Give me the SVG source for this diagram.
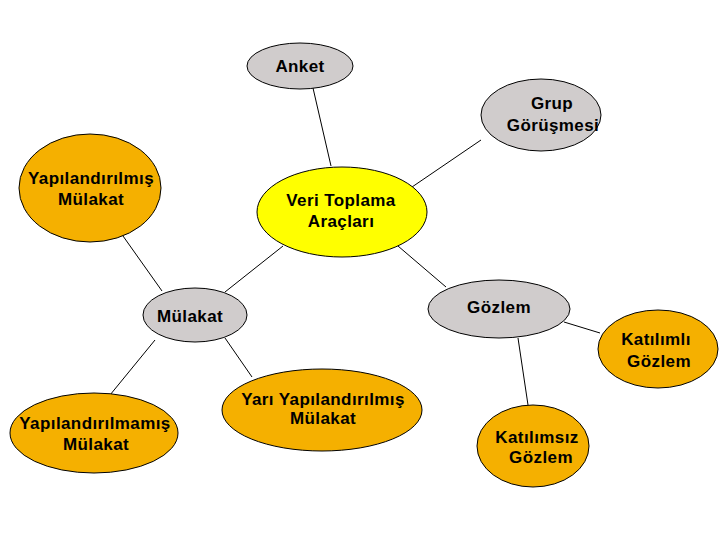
<svg xmlns="http://www.w3.org/2000/svg" width="720" height="540" viewBox="0 0 720 540">
<style>
.g{fill:#d0cccc;stroke:#000;stroke-width:1}
.o{fill:#f5b000;stroke:#000;stroke-width:1}
.y{fill:#ffff00;stroke:#000;stroke-width:1}
text{font-family:"Liberation Sans",Arial,sans-serif;font-size:17px;font-weight:bold;letter-spacing:0.4px;fill:#000;text-anchor:middle}
#connectors line{stroke:#000;stroke-width:1}
</style>
<rect width="720" height="540" fill="#fff"/>
<g id="connectors">
<line x1="313" y1="88" x2="331" y2="166"/>
<line x1="481" y1="140" x2="412" y2="187"/>
<line x1="123" y1="236" x2="162" y2="291"/>
<line x1="283" y1="246" x2="225" y2="292"/>
<line x1="398" y1="246" x2="446" y2="287"/>
<line x1="155" y1="340" x2="110" y2="395"/>
<line x1="225" y1="338" x2="252" y2="377"/>
<line x1="564" y1="322" x2="600" y2="333"/>
<line x1="518" y1="338" x2="528" y2="405"/>
</g>
<g id="anket"><ellipse class="g" cx="300" cy="66" rx="53" ry="23"/><text x="300" y="72">Anket</text></g>
<g id="grup"><ellipse class="g" cx="541" cy="115" rx="60" ry="36"/><text x="552" y="109">Grup</text><text x="553" y="131">Görüşmesi</text></g>
<g id="yapilandirilmis"><ellipse class="o" cx="90" cy="188" rx="71" ry="54"/><text x="91" y="184">Yapılandırılmış</text><text x="91" y="205">Mülakat</text></g>
<g id="veri"><ellipse class="y" cx="342" cy="212" rx="85" ry="45"/><text x="341" y="206">Veri Toplama</text><text x="341" y="227">Araçları</text></g>
<g id="mulakat"><ellipse class="g" cx="195" cy="315" rx="52" ry="27"/><text x="190" y="322">Mülakat</text></g>
<g id="gozlem"><ellipse class="g" cx="499" cy="309" rx="71" ry="29"/><text x="499" y="313">Gözlem</text></g>
<g id="katilimli"><ellipse class="o" cx="658" cy="349" rx="60" ry="39"/><text x="656" y="345">Katılımlı</text><text x="659" y="367">Gözlem</text></g>
<g id="yapilandirilmamis"><ellipse class="o" cx="94" cy="433" rx="84" ry="40"/><text x="95" y="429">Yapılandırılmamış</text><text x="96" y="450">Mülakat</text></g>
<g id="yari"><ellipse class="o" cx="322" cy="410" rx="100" ry="41"/><text x="323" y="405">Yarı Yapılandırılmış</text><text x="323" y="424">Mülakat</text></g>
<g id="katilimsiz"><ellipse class="o" cx="533" cy="446" rx="56" ry="41"/><text x="537" y="443">Katılımsız</text><text x="541" y="463">Gözlem</text></g>
</svg>
